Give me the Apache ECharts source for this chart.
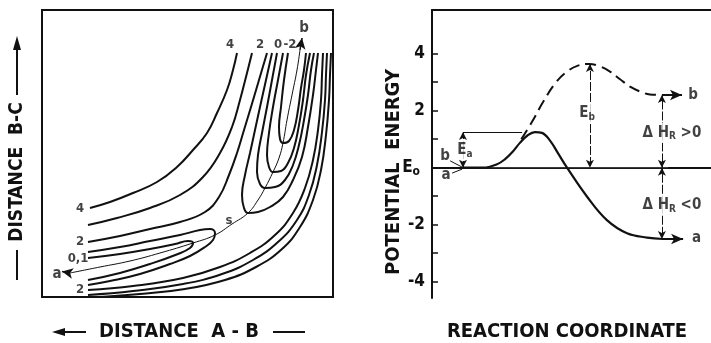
<!DOCTYPE html>
<html><head><meta charset="utf-8">
<script src="https://cdn.jsdelivr.net/npm/echarts@6/dist/echarts.min.js"></script>
<style>html,body{margin:0;padding:0;background:#fff}#c{width:711px;height:343px}</style>
</head><body><div id="c"></div>
<script>
// ===== LEFT PANEL: potential energy surface (distance A-B, distance B-C; arbitrary units) =====
const plateau4 = [[48,89],[68,95],[91,104],[115,115],[135,130],[151,147],[165,164],[175,184],[185,207],[191,227],[195,244]];
const plateau3 = [[46,72],[75,79],[108,89],[138,102],[161,120],[178,144],[190,170],[198,197],[205,224],[210,244]];
const plateau2 = [[46,55],[78,61],[108,68],[138,75],[163,85],[177,100],[187,122],[195,144],[202,167],[209,190],[217,217],[225,244]];
const valleyA1 = [[46,45],[78,50],[108,56],[138,62],[158,67],[168,68],[173,64],[171,57],[163,50],[148,41],[128,33],[98,23],[68,16],[46,12]];
const valleyA0 = [[46,39],[78,43],[108,48],[133,53],[146,56],[151,54],[148,49],[136,43],[108,33],[78,24],[46,17]];
const valleyB1 = [[230,244],[224,217],[218,190],[213,167],[208,144],[203,122],[200,102],[202,89],[206,84],[216,85],[228,90],[241,100],[251,117],[260,140],[266,170],[271,202],[274,227],[276,244]];
const valleyB0 = [[235,244],[230,217],[225,190],[220,164],[216,142],[215,125],[218,113],[223,109],[233,110],[243,117],[251,132],[257,152],[262,177],[266,202],[269,227],[272,244]];
const valleyBm1 = [[241,244],[236,217],[231,190],[227,164],[225,142],[227,130],[231,125],[239,126],[246,134],[252,149],[257,172],[261,197],[264,222],[268,244]];
const valleyBm2 = [[246,244],[242,217],[239,190],[237,170],[238,158],[241,154],[247,156],[252,167],[256,187],[259,209],[262,227],[264,244]];
const wall2 = [[46,7],[91,11],[141,19],[178,30],[208,44],[233,62],[251,84],[263,109],[271,137],[276,167],[279,197],[280,222],[281,244]];
const wall3 = [[46,2],[91,6],[141,13],[180,23],[211,37],[236,55],[255,77],[267,102],[275,132],[280,165],[283,197],[284,222],[285,244]];
const wall4 = [[58,0],[98,3],[143,8],[183,17],[214,30],[240,48],[258,70],[271,97],[279,127],[284,162],[287,197],[288,222],[289,244]];
const reactionPath = [[28,24],[58,30],[88,36],[118,44],[151,54],[173,62],[190,73],[206,84],[216,97],[223,109],[231,125],[237,139],[241,154],[245,177],[250,202],[255,227],[258,247]];
const pathArrows = [[[258,247],[260,259]],[[28,24],[20,25.5]]];
const contourLabels = [[188,252,'4'],[218,252,'2'],[236,252,'0'],[248,252,'-2'],[38,88,'4'],[38,55,'2'],[36,38,'0,1'],[38,7,'2'],[187,76,'s']];
const endLabels = [[262,269,'b'],[15,23,'a']];

// ===== RIGHT PANEL: potential energy vs reaction coordinate =====
const energyTicks = [-4,-3,-2,-1,0,1,2,3,4];
const energyLabels = [-4,-2,0,2,4];
const curveA = [[10.8,0],[18.3,0],[23.3,0.12],[26.2,0.3],[29.0,0.57],[31.5,0.87],[34.1,1.12],[36.9,1.25],[39.4,1.22],[42.3,0.95],[45.2,0.5],[48.4,0],[55.6,-1.02],[62.7,-1.84],[69.9,-2.3],[77.1,-2.45],[82.8,-2.5]];
const curveB = [[32.0,1.0],[35.8,1.6],[39.8,2.3],[44.1,2.95],[48.4,3.37],[52.3,3.58],[56.3,3.64],[60.2,3.55],[63.8,3.37],[67.4,3.1],[71.0,2.84],[74.6,2.67],[78.1,2.57],[82.4,2.55]];
const baseLine = [[10.8,0],[84.6,0]];
const productArrows = [[[82.8,-2.5],[90,-2.5]],[[82.4,2.55],[89.6,2.55]]];
const gapArrows = [[[56.6,1.92],[56.6,3.64]],[[56.6,1.92],[56.6,0]],[[82.4,1.27],[82.4,2.55]],[[82.4,1.27],[82.4,0]],[[82.4,-1.3],[82.4,0]],[[82.4,-1.3],[82.4,-2.5]],[[11.1,0.62],[11.1,1.25]],[[11.1,0.62],[11.1,0]]];
const thinLines = [[[11.1,1.25],[32.3,1.25]],[[6.5,0.24],[10.8,0.02]],[[7.2,-0.19],[10.8,-0.05]]];
const boxedLabels = [[55.6,1.92,'E{s|b}'],[11.8,0.62,'E{s|a}'],[86,1.22,'Δ H{s|R} >0'],[86,-1.31,'Δ H{s|R} <0']];
const plainLabels = [[93.6,2.55,'b'],[94.8,-2.48,'a'],[4.7,0.41,'b'],[5.0,-0.26,'a']];

const FONT = "'DejaVu Sans Condensed','Liberation Sans',sans-serif";
const INK = '#111';

function contour(data, w) {
  return {type:'line', xAxisIndex:0, yAxisIndex:0, data, smooth:0.45, symbol:'none',
    lineStyle:{color:INK, width:w||2}, silent:true, z:3};
}
function arrowLines(pairs) {
  return pairs.map(p => [{coord:p[0]},{coord:p[1]}]);
}

const chart = echarts.init(document.getElementById('c'), null, {renderer:'canvas'});
chart.setOption({
  animation:false,
  backgroundColor:'#fff',
  grid:[
    {left:42, top:10, width:291, height:287, show:true, borderColor:INK, borderWidth:2, backgroundColor:'transparent'},
    {left:432, top:10, width:279, height:288}
  ],
  xAxis:[
    {gridIndex:0, type:'value', min:0, max:291, show:false},
    {gridIndex:1, type:'value', min:0, max:100, position:'bottom', axisLine:{lineStyle:{color:INK,width:2}}, axisTick:{show:false}, axisLabel:{show:false}, splitLine:{show:false}},
    {gridIndex:1, type:'value', min:0, max:100, position:'top', axisLine:{lineStyle:{color:INK,width:2}}, axisTick:{show:false}, axisLabel:{show:false}, splitLine:{show:false}}
  ],
  yAxis:[
    {gridIndex:0, type:'value', min:0, max:287, show:false},
    {gridIndex:1, type:'value', min:-4.57, max:5.53, axisLine:{show:true, lineStyle:{color:INK,width:2}},
      axisTick:{show:true, inside:true, length:6, customValues:energyTicks, lineStyle:{color:INK,width:1.5}},
      axisLabel:{customValues:energyLabels, margin:7, color:INK, fontFamily:FONT, fontWeight:'bold', fontSize:17,
        formatter:v => v===0 ? '{e|E}{o|o}' : String(v),
        rich:{e:{fontFamily:FONT,fontWeight:'bold',fontSize:17,color:INK}, o:{fontFamily:FONT,fontWeight:'bold',fontSize:12,color:INK,padding:[9,5,0,0]}}},
      splitLine:{show:false}}
  ],
  series:[
    contour(plateau4), contour(plateau3), contour(plateau2),
    contour(valleyA1), contour(valleyA0),
    contour(valleyB1), contour(valleyB0), contour(valleyBm1), contour(valleyBm2),
    contour(wall2), contour(wall3), contour(wall4),
    Object.assign(contour(reactionPath, 1), {markLine:{silent:true, symbol:['none','arrow'], symbolSize:[8,11], label:{show:false},
      lineStyle:{color:INK, width:1.5, type:'solid'}, data:arrowLines(pathArrows)}}),
    {type:'scatter', xAxisIndex:0, yAxisIndex:0, data:contourLabels, symbolSize:1, itemStyle:{color:'transparent'}, silent:true, clip:false,
      label:{show:true, position:'inside', formatter:p=>p.data[2], color:INK, fontFamily:FONT, fontWeight:'bold', fontSize:13}},
    {type:'scatter', xAxisIndex:0, yAxisIndex:0, data:endLabels, symbolSize:1, itemStyle:{color:'transparent'}, silent:true, clip:false,
      label:{show:true, position:'inside', formatter:p=>p.data[2], color:INK, fontFamily:FONT, fontWeight:'bold', fontSize:15}},
    // right panel
    {type:'line', xAxisIndex:1, yAxisIndex:1, data:baseLine, symbol:'none', silent:true, lineStyle:{color:'#444', width:1},
      markLine:{silent:true, symbol:['none','none'], label:{show:false}, lineStyle:{color:INK,width:1,type:'solid'}, data:arrowLines(thinLines)}},
    {type:'line', xAxisIndex:1, yAxisIndex:1, data:curveA, smooth:0.4, symbol:'none', silent:true, lineStyle:{color:INK, width:2.2}, z:4,
      markLine:{silent:true, symbol:['none','arrow'], symbolSize:[8,12], label:{show:false}, lineStyle:{color:INK,width:2,type:'solid'}, data:arrowLines(productArrows)}},
    {type:'line', xAxisIndex:1, yAxisIndex:1, data:curveB, smooth:0.4, symbol:'none', silent:true, lineStyle:{color:INK, width:2, type:[11,6]}, z:4,
      markLine:{silent:true, symbol:['none','arrow'], symbolSize:[6,8], label:{show:false}, lineStyle:{color:INK,width:1,type:[9,2]}, data:arrowLines(gapArrows)}},
    {type:'scatter', xAxisIndex:1, yAxisIndex:1, data:boxedLabels, symbolSize:1, itemStyle:{color:'transparent'}, silent:true, z:6,
      label:{show:true, position:'inside', formatter:p=>p.data[2], color:INK, fontFamily:FONT, fontWeight:'bold', fontSize:15,
        backgroundColor:'#fff', padding:[1,2],
        rich:{s:{fontFamily:FONT, fontWeight:'bold', fontSize:10, color:INK, padding:[8,0,0,0]}}}},
    {type:'scatter', xAxisIndex:1, yAxisIndex:1, data:plainLabels, symbolSize:1, itemStyle:{color:'transparent'}, silent:true, z:6,
      label:{show:true, position:'inside', formatter:p=>p.data[2], color:INK, fontFamily:FONT, fontWeight:'bold', fontSize:15}}
  ],
  graphic:[
    {type:'text', x:179, y:332, style:{text:'DISTANCE  A - B', font:'bold 20px '+FONT, fill:INK, textAlign:'center', textVerticalAlign:'middle'}},
    {type:'line', shape:{x1:60,y1:332,x2:86,y2:332}, style:{stroke:INK, lineWidth:2}},
    {type:'polygon', shape:{points:[[52,332],[65,328],[65,336]]}, style:{fill:INK}},
    {type:'line', shape:{x1:273,y1:332,x2:305,y2:332}, style:{stroke:INK, lineWidth:2}},
    {type:'text', x:17, y:172, rotation:Math.PI/2, style:{text:'DISTANCE  B-C', font:'bold 19px '+FONT, fill:INK, textAlign:'center', textVerticalAlign:'middle'}},
    {type:'line', shape:{x1:17,y1:250,x2:17,y2:280}, style:{stroke:INK, lineWidth:2}},
    {type:'line', shape:{x1:17,y1:48,x2:17,y2:95}, style:{stroke:INK, lineWidth:2}},
    {type:'polygon', shape:{points:[[17,36],[13,50],[21,50]]}, style:{fill:INK}},
    {type:'text', x:567, y:332, style:{text:'REACTION COORDINATE', font:'bold 20px '+FONT, fill:INK, textAlign:'center', textVerticalAlign:'middle'}},
    {type:'text', x:394, y:172, rotation:Math.PI/2, style:{text:'POTENTIAL  ENERGY', font:'bold 20px '+FONT, fill:INK, textAlign:'center', textVerticalAlign:'middle'}}
  ]
});
</script></body></html>
